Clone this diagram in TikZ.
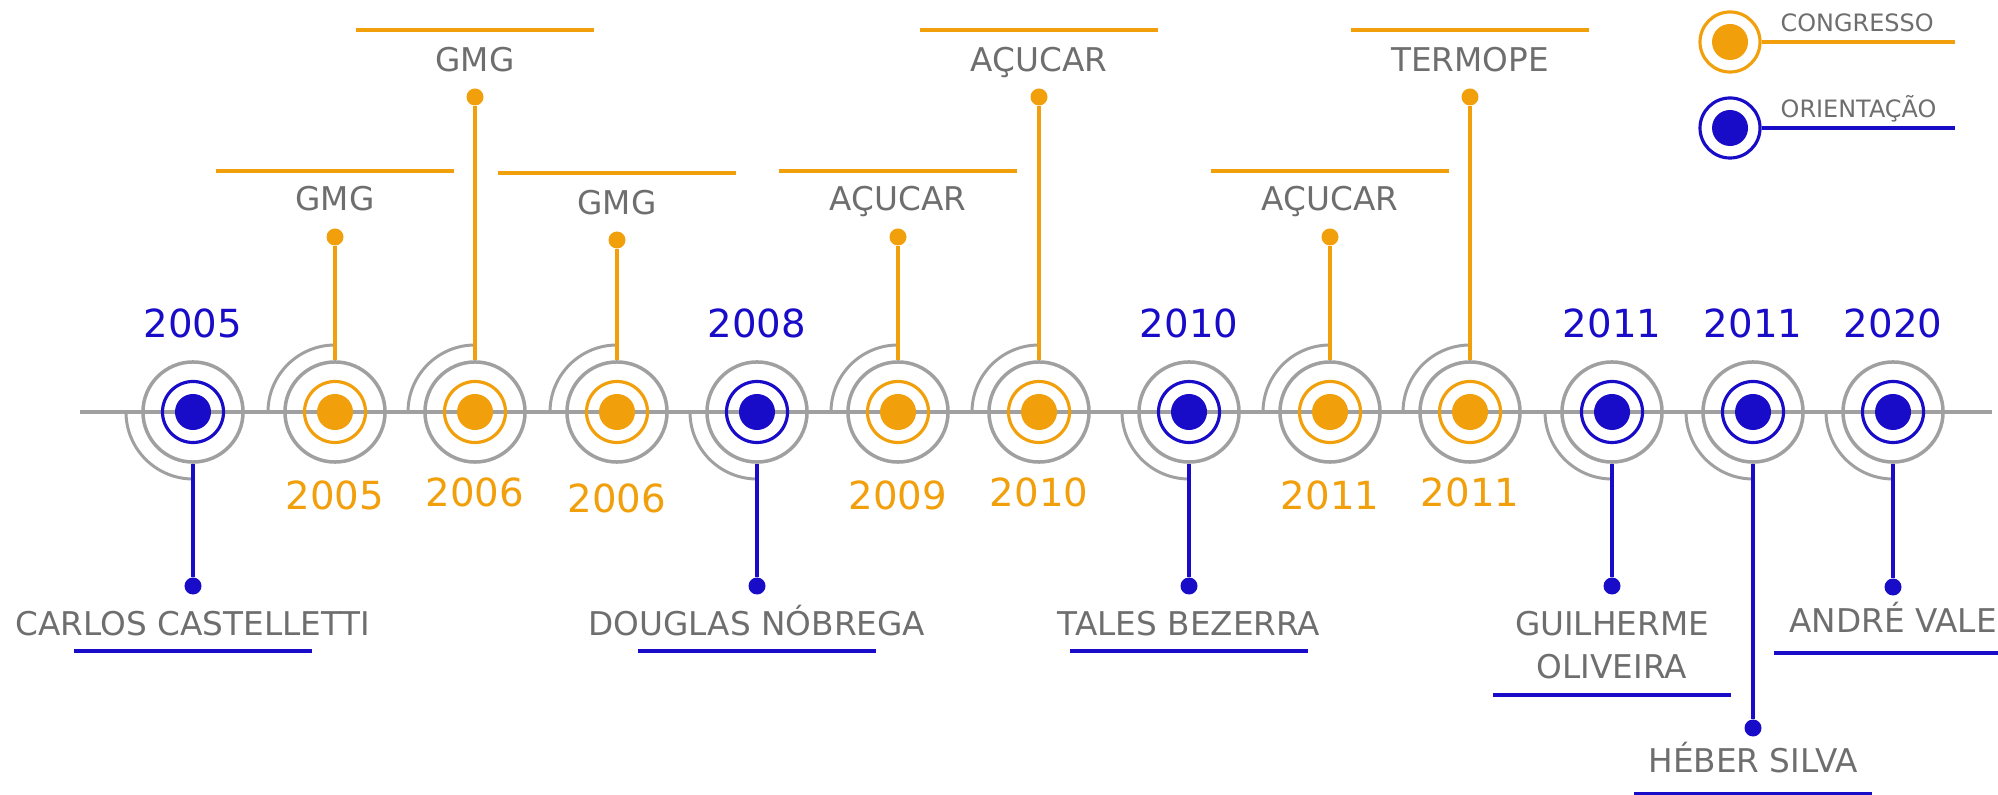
\documentclass[tikz,border=0pt]{standalone}
\usepackage{fontspec}
\setmainfont{DejaVu Sans}
\usetikzlibrary{positioning}
\definecolor{congr}{RGB}{242,159,12}
\definecolor{orient}{RGB}{25,12,200}
\definecolor{ringgray}{RGB}{160,160,160}
\definecolor{txtgray}{RGB}{110,110,110}

\begin{document}
\begin{tikzpicture}[x=0.01cm,y=0.01cm,
  outer/.style={circle,draw=ringgray,line width=1pt,minimum size=1cm,inner sep=0pt},
  ring/.style={circle,draw=#1,line width=0.9pt,minimum size=0.61cm,inner sep=0pt},
  core/.style={circle,fill=#1,minimum size=0.36cm,inner sep=0pt},
  pin/.style={circle,fill=#1,minimum size=0.17cm,inner sep=0pt},
  stem/.style={draw=#1,line width=1pt},
  bar/.style={draw=#1,line width=1.05pt},
  halo/.style={draw=ringgray,line width=0.85pt},
  lbl/.style={text=txtgray,font=\fontsize{9.3}{12}\selectfont,anchor=base,inner sep=0pt},
  yr/.style={text=#1,font=\fontsize{11}{13}\selectfont,anchor=base,inner sep=0pt},
  leg/.style={text=txtgray,font=\fontsize{6.8}{8}\selectfont,anchor=base west,inner sep=0pt}]

\useasboundingbox (0,0) rectangle (1998,-795);

% eixo
\coordinate (axL) at (80,-412);
\coordinate (axR) at (1992,-412);
\draw[ringgray,line width=1.4pt] (axL) -- (axR);

% marcos
\foreach \x/\n/\c/\a/\yy/\yb in {193/o1/orient/270/2005/-338, 335/c1/congr/90/2005/-510,
    475/c2/congr/90/2006/-507, 617/c3/congr/90/2006/-513, 757/o2/orient/270/2008/-338,
    898/c4/congr/90/2009/-510, 1039/c5/congr/90/2010/-507, 1189/o3/orient/270/2010/-338,
    1330/c6/congr/90/2011/-510, 1470/c7/congr/90/2011/-507, 1612/o4/orient/270/2011/-338,
    1753/o5/orient/270/2011/-338, 1893/o6/orient/270/2020/-338}{
  \draw[halo] (\x-67,-412) arc[start angle=180,end angle=\a,radius=67];
  \node[outer] (\n) at (\x,-412) {};
  \node[ring=\c] (\n r) at (\x,-412) {};
  \node[core=\c] (\n d) at (\x,-412) {};
  \node[yr=\c] (\n y) at (\x,\yb) {\yy};
}

% congressos
\node[pin=congr] (c1p) at (335,-237) {};
\draw[stem=congr] (c1.north) -- (c1p);
\node[lbl] (c1t) at (335,-210.5) {GMG};
\draw[bar=congr] ([shift={(-119,66)}]c1p.center) -- ++(238,0);

\node[pin=congr] (c2p) at (475,-97) {};
\draw[stem=congr] (c2.north) -- (c2p);
\node[lbl] (c2t) at (475,-71.5) {GMG};
\draw[bar=congr] ([shift={(-119,67)}]c2p.center) -- ++(238,0);

\node[pin=congr] (c3p) at (617,-240) {};
\draw[stem=congr] (c3.north) -- (c3p);
\node[lbl] (c3t) at (617,-214.5) {GMG};
\draw[bar=congr] ([shift={(-119,67)}]c3p.center) -- ++(238,0);

\node[pin=congr] (c4p) at (898,-237) {};
\draw[stem=congr] (c4.north) -- (c4p);
\node[lbl] (c4t) at (898,-210.5) {AÇUCAR};
\draw[bar=congr] ([shift={(-119,66)}]c4p.center) -- ++(238,0);

\node[pin=congr] (c5p) at (1039,-97) {};
\draw[stem=congr] (c5.north) -- (c5p);
\node[lbl] (c5t) at (1039,-71.5) {AÇUCAR};
\draw[bar=congr] ([shift={(-119,67)}]c5p.center) -- ++(238,0);

\node[pin=congr] (c6p) at (1330,-237) {};
\draw[stem=congr] (c6.north) -- (c6p);
\node[lbl] (c6t) at (1330,-210.5) {AÇUCAR};
\draw[bar=congr] ([shift={(-119,66)}]c6p.center) -- ++(238,0);

\node[pin=congr] (c7p) at (1470,-97) {};
\draw[stem=congr] (c7.north) -- (c7p);
\node[lbl] (c7t) at (1470,-71.5) {TERMOPE};
\draw[bar=congr] ([shift={(-119,67)}]c7p.center) -- ++(238,0);

% orientações
\node[pin=orient] (o1p) at (193,-586) {};
\draw[stem=orient] (o1.south) -- (o1p);
\node[lbl] (o1t) at (193,-636) {CARLOS CASTELLETTI};
\draw[bar=orient] ([shift={(-119,-65)}]o1p.center) -- ++(238,0);

\node[pin=orient] (o2p) at (757,-586) {};
\draw[stem=orient] (o2.south) -- (o2p);
\node[lbl] (o2t) at (757,-636) {DOUGLAS NÓBREGA};
\draw[bar=orient] ([shift={(-119,-65)}]o2p.center) -- ++(238,0);

\node[pin=orient] (o3p) at (1189,-586) {};
\draw[stem=orient] (o3.south) -- (o3p);
\node[lbl] (o3t) at (1189,-636) {TALES BEZERRA};
\draw[bar=orient] ([shift={(-119,-65)}]o3p.center) -- ++(238,0);

\node[pin=orient] (o4p) at (1612,-586) {};
\draw[stem=orient] (o4.south) -- (o4p);
\node[lbl,align=center,anchor=north] (o4t) at (1612,-611) {GUILHERME\\OLIVEIRA};
\draw[bar=orient] ([shift={(-119,-109)}]o4p.center) -- ++(238,0);

\node[pin=orient] (o5p) at (1753,-728) {};
\draw[stem=orient] (o5.south) -- (o5p);
\node[lbl] (o5t) at (1753,-772) {HÉBER SILVA};
\draw[bar=orient] ([shift={(-119,-66)}]o5p.center) -- ++(238,0);

\node[pin=orient] (o6p) at (1893,-587) {};
\draw[stem=orient] (o6.south) -- (o6p);
\node[lbl] (o6t) at (1893,-633) {ANDRÉ VALE};
\draw[bar=orient] ([shift={(-119,-66)}]o6p.center) -- ++(238,0);

% legenda
\node[ring=congr,minimum size=0.6cm] (lc) at (1730,-42) {};
\node[core=congr] (lcd) at (lc) {};
\coordinate (lcE) at (1955,-42);
\draw[bar=congr] (lc.east) -- (lcE);
\node[leg] (lct) at (1780,-32) {CONGRESSO};

\node[ring=orient,minimum size=0.6cm] (lo) at (1730,-128) {};
\node[core=orient] (lod) at (lo) {};
\coordinate (loE) at (1955,-128);
\draw[bar=orient] (lo.east) -- (loE);
\node[leg] (lot) at (1780,-118) {ORIENTAÇÃO};
\end{tikzpicture}
\end{document}
